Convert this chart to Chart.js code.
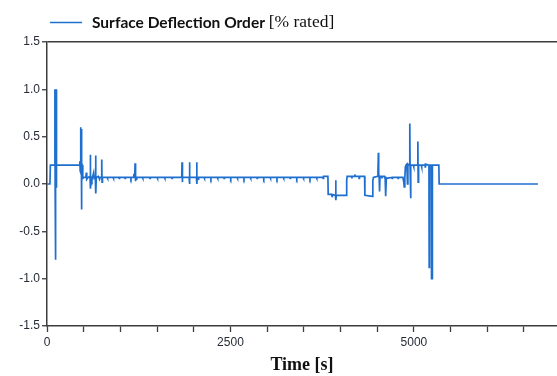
<!DOCTYPE html>
<html>
<head>
<meta charset="utf-8">
<script src="https://cdn.jsdelivr.net/npm/chart.js@4.4.1/dist/chart.umd.min.js"></script>
<style>
  html, body { margin: 0; padding: 0; background: #fff; }
  #wrap { width: 557px; height: 376px; position: relative; }
</style>
</head>
<body>
<div id="wrap"><canvas id="chart" width="557" height="376"></canvas></div>
<script>
// time axis [s] and surface deflection order [% rated]
var timeSec = [
    0, 40, 46, 104, 108, 111, 114, 117, 120, 123, 126, 129, 133,
    440, 448, 452, 458, 462, 466, 470, 474, 480, 485, 490, 500,
    530, 536, 542, 560, 586, 590, 594, 600, 612, 620, 636, 644,
    658, 662, 667, 672, 700, 716, 724, 742, 746, 750, 756,
    820, 824, 828, 900, 904, 908, 980, 984, 988, 1060, 1064, 1068,
    1140, 1144, 1148, 1180, 1184, 1196, 1200, 1204, 1210, 1216, 1222,
    1300, 1304, 1308, 1400, 1404, 1408, 1500, 1504, 1508, 1600, 1604, 1608,
    1700, 1704, 1708, 1836, 1840, 1844, 1848, 1936, 1940, 1944, 1948,
    2036, 2040, 2044, 2048, 2060, 2066,
    2140, 2144, 2148, 2230, 2234, 2238, 2320, 2324, 2328, 2410, 2414, 2418,
    2500, 2504, 2508, 2590, 2594, 2598, 2680, 2684, 2688, 2770, 2774, 2778,
    2860, 2864, 2868, 2950, 2954, 2958, 3040, 3044, 3048, 3130, 3134, 3138,
    3220, 3224, 3228, 3310, 3314, 3318, 3400, 3404, 3408, 3490, 3494, 3498,
    3580, 3584, 3588, 3670, 3674, 3678, 3760, 3764, 3768,
    3828, 3832, 3880, 3884, 3888, 3930, 3934, 3938, 3942, 4080, 4084, 4090,
    4150, 4155, 4160, 4190, 4195, 4200, 4250, 4254, 4258, 4328, 4332,
    4436, 4440, 4448, 4500, 4510, 4516, 4520, 4526, 4532, 4538,
    4560, 4564, 4568, 4600, 4604, 4608, 4612, 4618, 4624,
    4700, 4704, 4708, 4780, 4784, 4788, 4850, 4862, 4868, 4876, 4884, 4892,
    4904, 4912, 4918, 4940, 4944, 4948, 4954, 4960, 4990, 4996, 5000,
    5050, 5054, 5058, 5064, 5100, 5104, 5108, 5150, 5154, 5158,
    5205, 5208, 5212, 5236, 5240, 5248, 5252, 5340, 5344, 6690
];
var orderPct = [
    0, 0, 0.2, 0.2, 1.0, -0.02, 1.0, -0.8, 0.99, -0.03, 1.0, 0.0, 0.2,
    0.2, 0.24, 0.14, 0.6, 0.12, 0.58, -0.27, 0.22, 0.2, 0.09, 0.06, 0.07,
    0.07, 0.12, 0.05, 0.07, 0.08, 0.31, -0.05, 0.07, 0.04, 0.07, 0.12, 0.06,
    0.07, 0.3, -0.1, 0.07, 0.08, 0.05, 0.07, 0.07, 0.26, 0.02, 0.07,
    0.07, 0.06, 0.07, 0.07, 0.06, 0.07, 0.07, 0.06, 0.07, 0.07, 0.06, 0.07,
    0.07, 0.06, 0.07, 0.07, 0.09, 0.08, 0.22, 0.03, 0.08, 0.05, 0.07,
    0.07, 0.06, 0.07, 0.07, 0.06, 0.07, 0.07, 0.06, 0.07, 0.07, 0.06, 0.07,
    0.07, 0.06, 0.07, 0.07, 0.23, 0.02, 0.07, 0.07, 0.23, 0.0, 0.07,
    0.07, 0.23, 0.0, 0.07, 0.05, 0.07,
    0.07, 0.06, 0.07, 0.07, 0.06, 0.07, 0.07, 0.06, 0.07, 0.07, 0.06, 0.07,
    0.07, 0.06, 0.07, 0.07, 0.06, 0.07, 0.07, 0.06, 0.07, 0.07, 0.06, 0.07,
    0.07, 0.06, 0.07, 0.07, 0.06, 0.07, 0.07, 0.06, 0.07, 0.07, 0.06, 0.07,
    0.07, 0.06, 0.07, 0.07, 0.06, 0.07, 0.07, 0.06, 0.07, 0.07, 0.06, 0.07,
    0.07, 0.06, 0.07, 0.07, 0.06, 0.07, 0.07, 0.06, 0.08,
    0.08, -0.11, -0.11, -0.13, -0.11, -0.12, 0.04, -0.17, -0.12, -0.12, 0.04, 0.08,
    0.08, 0.06, 0.08, 0.08, 0.1, 0.08, 0.08, 0.06, 0.08, 0.08, -0.12,
    -0.13, 0.03, 0.07, 0.08, 0.13, 0.33, 0.1, 0.08, -0.08, 0.08,
    0.08, 0.06, 0.08, 0.08, 0.06, 0.08, 0.07, -0.13, 0.06,
    0.07, 0.06, 0.07, 0.07, 0.06, 0.07, 0.07, 0.02, -0.03, 0.06, 0.18, 0.2,
    0.21, 0.0, 0.21, 0.2, 0.64, 0.17, -0.15, 0.2, 0.2, 0.18, 0.2,
    0.2, 0.45, 0.02, 0.2, 0.2, 0.18, 0.2, 0.2, 0.18, 0.21,
    0.2, -0.88, 0.2, 0.2, -1.0, -1.0, 0.2, 0.2, 0.0, 0.0
];
var yTickValues = [-1.5, -1.0, -0.5, 0.0, 0.5, 1.0, 1.5];
var xTickValues = [0, 500, 1000, 1500, 2000, 2500, 3000, 3500, 4000, 4500, 5000, 5500, 6000, 6500];
var xLabelValues = [0, 2500, 5000];

var points = [];
for (var i = 0; i < timeSec.length; i++) {
    points.push({ x: timeSec[i], y: orderPct[i] });
}

var lineColor = "#1f6fce";
var axisColor = "#3c3c3c";

// legend with a bold sans part and a serif unit part
var legendPlugin = {
    id: "mixedLegend",
    afterDraw: function (chart) {
        var ctx = chart.ctx;
        ctx.save();
        ctx.strokeStyle = lineColor;
        ctx.lineWidth = 1.5;
        ctx.beginPath();
        ctx.moveTo(50, 22.5);
        ctx.lineTo(82, 22.5);
        ctx.stroke();
        ctx.fillStyle = "#111";
        ctx.textBaseline = "middle";
        ctx.font = "bold 15.5px Lato";
        ctx.fillText("Surface Deflection Order", 92, 23);
        var w = ctx.measureText("Surface Deflection Order ").width;
        ctx.font = "17.5px 'Liberation Serif'";
        ctx.fillText("[% rated]", 92 + w, 22.5);
        ctx.restore();
    }
};

new Chart(document.getElementById("chart"), {
    type: "line",
    data: {
        datasets: [{
            label: "Surface Deflection Order [% rated]",
            data: points,
            borderColor: lineColor,
            borderWidth: 1.7,
            pointRadius: 0,
            tension: 0,
            fill: false
        }]
    },
    options: {
        responsive: false,
        animation: false,
        layout: { padding: { top: 42, right: 0, left: 0, bottom: 0 } },
        plugins: {
            legend: { display: false },
            tooltip: { enabled: false }
        },
        scales: {
            x: {
                type: "linear",
                min: 0,
                max: 6950,
                afterBuildTicks: function (scale) {
                    scale.ticks = xTickValues.map(function (v) { return { value: v }; });
                },
                afterFit: function (scale) { scale.height = 50; },
                border: { display: true, color: axisColor, width: 1.5 },
                grid: { display: true, drawOnChartArea: false, color: axisColor, tickColor: axisColor, tickLength: 6, tickWidth: 1.3 },
                ticks: {
                    autoSkip: false,
                    maxRotation: 0,
                    padding: 3,
                    color: "#262b36",
                    font: { family: "'Liberation Sans'", size: 12 },
                    callback: function (v) { return xLabelValues.indexOf(v) >= 0 ? String(v) : ""; }
                },
                title: {
                    display: true,
                    text: "Time [s]",
                    color: "#111",
                    padding: { top: 0, bottom: 0 },
                    font: { family: "'Liberation Serif'", size: 18, weight: "bold" }
                }
            },
            y: {
                min: -1.5,
                max: 1.5,
                afterBuildTicks: function (scale) {
                    scale.ticks = yTickValues.map(function (v) { return { value: v }; });
                },
                afterFit: function (scale) { scale.width = 47; },
                border: { display: true, color: axisColor, width: 1.5 },
                grid: {
                    drawOnChartArea: true,
                    color: function (c) { return c.tick && c.tick.value === 1.5 ? axisColor : "rgba(0,0,0,0)"; },
                    lineWidth: 1.5,
                    tickColor: axisColor,
                    tickLength: 5,
                    tickWidth: 1.3
                },
                ticks: {
                    padding: 2,
                    color: "#262b36",
                    font: { family: "'Liberation Sans'", size: 12 },
                    callback: function (v) { return Number(v).toFixed(1); }
                }
            }
        }
    },
    plugins: [legendPlugin]
});
</script>
</body>
</html>
